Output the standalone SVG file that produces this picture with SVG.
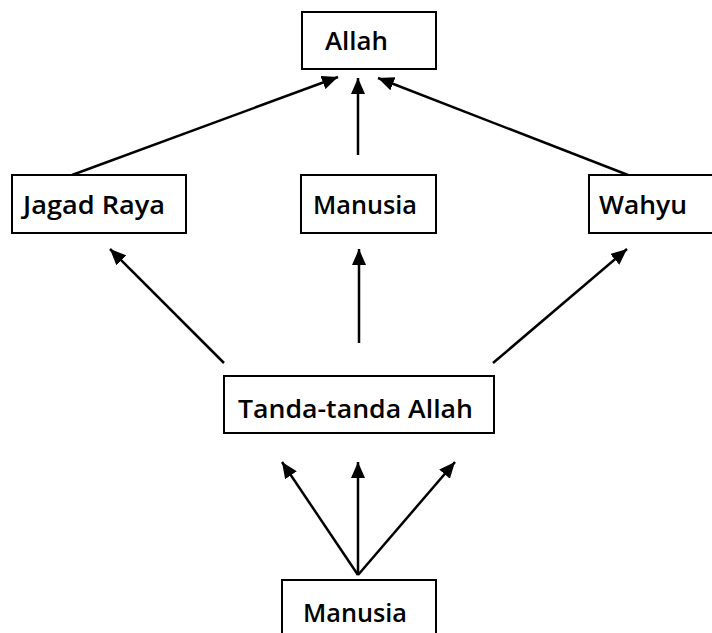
<svg xmlns="http://www.w3.org/2000/svg" width="712" height="633" viewBox="0 0 712 633">
<defs>
<marker id="ah" markerWidth="16" markerHeight="14" viewBox="0 0 16 14" refX="16" refY="7" orient="auto" markerUnits="userSpaceOnUse">
<path d="M0,0 L16,7 L0,14 z" fill="#000"/>
</marker>
<style>
.box{fill:#fff;stroke:#000;stroke-width:2}
.lbl{font-family:"Open Sans","DejaVu Sans",sans-serif;font-weight:600;font-size:26px;fill:#000}
.c{stroke:#000;stroke-width:2.5;fill:none;marker-end:url(#ah)}
</style>
</defs>
<rect width="712" height="633" fill="#fff"/>
<g id="connectors">
<line class="c" x1="72" y1="175" x2="338" y2="77"/>
<line class="c" x1="358" y1="155" x2="358" y2="78"/>
<line class="c" x1="628" y1="175" x2="378" y2="78"/>
<line class="c" x1="224" y1="363" x2="110" y2="249"/>
<line class="c" x1="359" y1="343" x2="359" y2="249"/>
<line class="c" x1="493" y1="363" x2="627" y2="249"/>
<line class="c" x1="358" y1="575" x2="282" y2="462"/>
<line class="c" x1="358" y1="575" x2="358" y2="462"/>
<line class="c" x1="358" y1="575" x2="455" y2="462"/>
</g>
<g id="allah">
<rect class="box" x="302" y="12" width="134" height="57"/>
<text class="lbl" x="325" y="50" textLength="63" lengthAdjust="spacingAndGlyphs">Allah</text>
</g>
<g id="jagad-raya">
<rect class="box" x="12" y="175" width="174" height="58"/>
<text class="lbl" x="23" y="214" textLength="142" lengthAdjust="spacingAndGlyphs">Jagad Raya</text>
</g>
<g id="manusia-mid">
<rect class="box" x="301" y="175" width="135" height="58"/>
<text class="lbl" x="313" y="214" textLength="104" lengthAdjust="spacingAndGlyphs">Manusia</text>
</g>
<g id="wahyu">
<rect class="box" x="589" y="175" width="140" height="58"/>
<text class="lbl" x="599" y="214" textLength="88" lengthAdjust="spacingAndGlyphs">Wahyu</text>
</g>
<g id="tanda-tanda">
<rect class="box" x="224" y="376" width="270" height="57"/>
<text class="lbl" x="238" y="418" textLength="235" lengthAdjust="spacingAndGlyphs">Tanda-tanda Allah</text>
</g>
<g id="manusia-bottom">
<rect class="box" x="282" y="580" width="154" height="70"/>
<text class="lbl" x="303" y="622" textLength="104" lengthAdjust="spacingAndGlyphs">Manusia</text>
</g>
</svg>
